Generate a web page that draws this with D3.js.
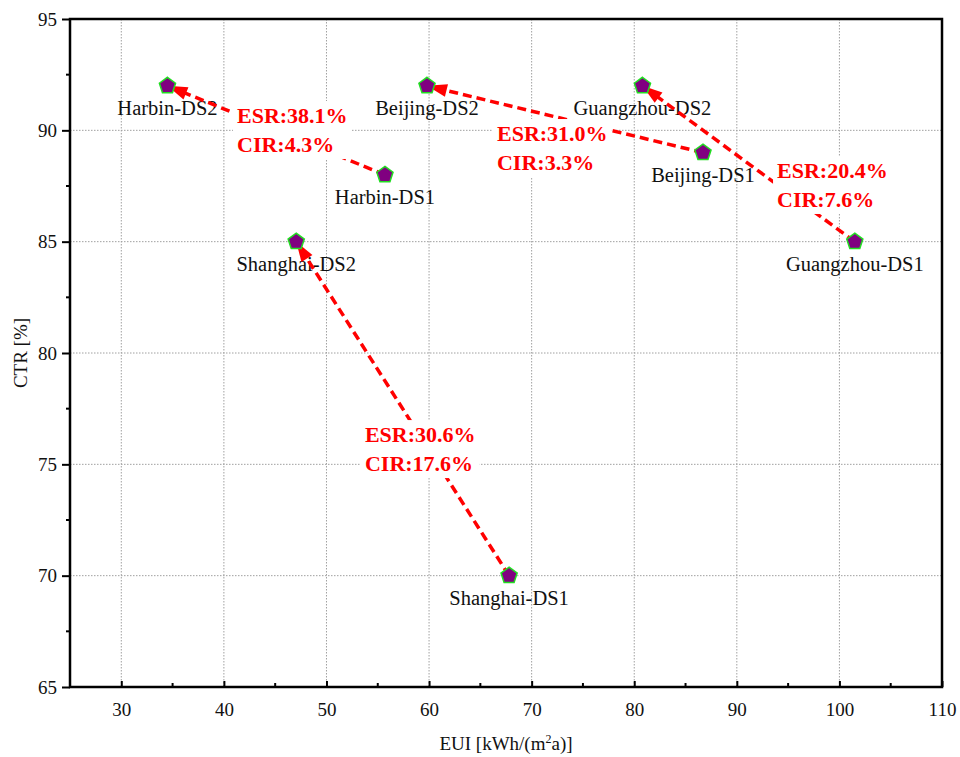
<!DOCTYPE html>
<html>
<head>
<meta charset="utf-8">
<script src="https://cdn.jsdelivr.net/npm/d3@7"></script>
<style>
  html, body { margin: 0; padding: 0; background: #fff; }
  svg { display: block; font-family: "Liberation Serif", "Times New Roman", serif; }
</style>
</head>
<body>
<svg id="chart" width="960" height="757"></svg>
<script>
// Cities and design scenarios
const cities = ["Harbin", "Beijing", "Guangzhou", "Shanghai"];
// Energy use intensity, kWh/(m2a)
const euiDS1 = [55.7, 86.7, 101.5, 67.8];
const euiDS2 = [34.5, 59.8, 80.8, 47.05];
// Comfort time ratio, %
const ctrDS1 = [88, 89, 85, 70];
const ctrDS2 = [92, 92, 92, 85];
// Energy saving rate / comfort improvement rate
const esrLabels = ["ESR:38.1%", "ESR:31.0%", "ESR:20.4%", "ESR:30.6%"];
const cirLabels = ["CIR:4.3%", "CIR:3.3%", "CIR:7.6%", "CIR:17.6%"];
// Axis ticks
const xTicks = [30, 40, 50, 60, 70, 80, 90, 100, 110];
const yTicks = [65, 70, 75, 80, 85, 90, 95];

// Where each ESR/CIR note sits (left edge, first baseline), in data units
const noteAnchors = [[41.28, 90.33], [66.62, 89.52], [93.92, 87.86], [53.75, 76.0]];

const svg = d3.select("#chart");
const m = { left: 70, right: 942, top: 19, bottom: 687 };

const x = d3.scaleLinear().domain([25, 110]).range([m.left, m.right]);
const y = d3.scaleLinear().domain([65, 95]).range([m.bottom, m.top]);

// Grid
const grid = svg.append("g").attr("stroke", "#a0a0a0").attr("stroke-width", 1)
  .attr("stroke-dasharray", "1.5,1.5");
xTicks.filter(d => d > 25 && d < 110).forEach(d => {
  grid.append("line").attr("x1", x(d)).attr("x2", x(d)).attr("y1", m.top).attr("y2", m.bottom);
});
yTicks.filter(d => d > 65 && d < 95).forEach(d => {
  grid.append("line").attr("y1", y(d)).attr("y2", y(d)).attr("x1", m.left).attr("x2", m.right);
});

// Bottom axis: ticks point inward
const xAxis = d3.axisBottom(x).tickValues(xTicks).tickSize(-6).tickPadding(16).tickSizeOuter(0);
const gx = svg.append("g").attr("transform", `translate(0,${m.bottom})`).call(xAxis);
gx.select(".domain").remove();
gx.selectAll(".tick line").attr("stroke", "#000").attr("stroke-width", 2);
gx.selectAll(".tick text").attr("font-size", 19).attr("font-family", "Liberation Serif").attr("fill", "#111");
const xMinor = d3.range(35, 110, 10);
svg.append("g").selectAll("line").data(xMinor).join("line")
  .attr("x1", d => x(d)).attr("x2", d => x(d)).attr("y1", m.bottom).attr("y2", m.bottom - 4)
  .attr("stroke", "#000").attr("stroke-width", 2);

// Left axis: ticks point outward
const yAxis = d3.axisLeft(y).tickValues(yTicks).tickSize(8).tickPadding(5).tickSizeOuter(0);
const gy = svg.append("g").attr("transform", `translate(${m.left},0)`).call(yAxis);
gy.select(".domain").remove();
gy.selectAll(".tick line").attr("stroke", "#000").attr("stroke-width", 2);
gy.selectAll(".tick text").attr("font-size", 19).attr("font-family", "Liberation Serif").attr("fill", "#111");
const yMinor = d3.range(67.5, 95, 5);
svg.append("g").selectAll("line").data(yMinor).join("line")
  .attr("y1", d => y(d)).attr("y2", d => y(d)).attr("x1", m.left).attr("x2", m.left - 4)
  .attr("stroke", "#000").attr("stroke-width", 2);

// Frame
svg.append("rect").attr("x", m.left).attr("y", m.top)
  .attr("width", m.right - m.left).attr("height", m.bottom - m.top)
  .attr("fill", "none").attr("stroke", "#000").attr("stroke-width", 2.5);

// Axis titles
const xTitle = svg.append("text").attr("x", (m.left + m.right) / 2).attr("y", 750)
  .attr("text-anchor", "middle").attr("font-size", 19).attr("fill", "#111");
xTitle.append("tspan").text("EUI [kWh/(m");
xTitle.append("tspan").attr("font-size", 12).attr("dy", -7).text("2");
xTitle.append("tspan").attr("dy", 7).text("a)]");

svg.append("text").attr("transform", `translate(27,${(m.top + m.bottom) / 2}) rotate(-90)`)
  .attr("text-anchor", "middle").attr("font-size", 19).attr("fill", "#111").text("CTR [%]");

// Points: DS1 and DS2 for each city
const points = [];
cities.forEach((c, i) => {
  points.push({ name: c + "-DS1", eui: euiDS1[i], ctr: ctrDS1[i] });
  points.push({ name: c + "-DS2", eui: euiDS2[i], ctr: ctrDS2[i] });
});

// Point labels
svg.append("g").selectAll("text").data(points).join("text")
  .attr("x", d => x(d.eui)).attr("y", d => y(d.ctr) + 29)
  .attr("text-anchor", "middle").attr("font-size", 20.5).attr("fill", "#111")
  .text(d => d.name);

// Arrows from DS1 to DS2
const arrows = svg.append("g");
const headLen = 20, headHalf = 6.5;
cities.forEach((c, i) => {
  const x1 = x(euiDS1[i]), y1 = y(ctrDS1[i]);
  const x2 = x(euiDS2[i]), y2 = y(ctrDS2[i]);
  const dx = x2 - x1, dy = y2 - y1, len = Math.hypot(dx, dy);
  const ux = dx / len, uy = dy / len;
  const bx = x2 - ux * headLen, by = y2 - uy * headLen;
  arrows.append("line").attr("x1", x1).attr("y1", y1).attr("x2", bx + ux * 2).attr("y2", by + uy * 2)
    .attr("stroke", "#ff0000").attr("stroke-width", 3.5).attr("stroke-dasharray", "9,5");
  const px = -uy, py = ux;
  arrows.append("path")
    .attr("d", `M${x2},${y2}L${bx + px * headHalf},${by + py * headHalf}L${bx - px * headHalf},${by - py * headHalf}Z`)
    .attr("fill", "#ff0000");
});

// ESR / CIR notes with white backing
const notes = svg.append("g");
cities.forEach((c, i) => {
  const [ax, ay] = noteAnchors[i];
  const g = notes.append("g");
  const bg = g.append("rect").attr("fill", "#fff");
  const t = g.append("text").attr("font-size", 22).attr("font-weight", "bold").attr("fill", "#ff0000");
  t.append("tspan").attr("x", x(ax)).attr("y", y(ay)).text(esrLabels[i]);
  t.append("tspan").attr("x", x(ax)).attr("y", y(ay) + 29).text(cirLabels[i]);
  const b = t.node().getBBox();
  bg.attr("x", b.x - 4).attr("y", b.y - 2).attr("width", b.width + 8).attr("height", b.height + 4);
});

// Pentagon markers
const r = 8.5;
const pentagon = d3.range(5).map(k => {
  const a = -Math.PI / 2 + k * 2 * Math.PI / 5;
  return [r * Math.cos(a), r * Math.sin(a)];
});
svg.append("g").selectAll("path").data(points).join("path")
  .attr("transform", d => `translate(${x(d.eui)},${y(d.ctr)})`)
  .attr("d", "M" + pentagon.map(p => p.join(",")).join("L") + "Z")
  .attr("fill", "#800080").attr("stroke", "#22dd22").attr("stroke-width", 1.5);
</script>
</body>
</html>
